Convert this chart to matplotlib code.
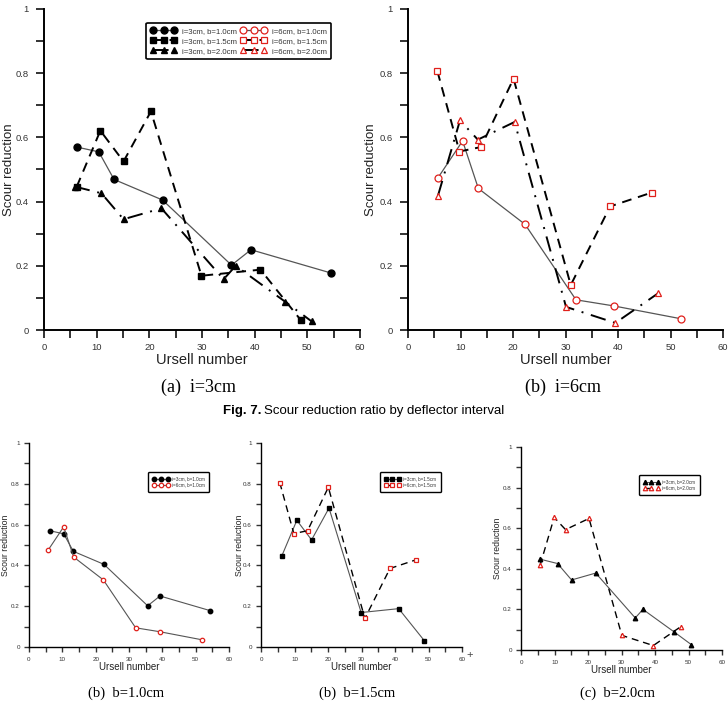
import numpy as np
import matplotlib
matplotlib.use("Agg")
import matplotlib.pyplot as plt
from matplotlib.ticker import MultipleLocator, FuncFormatter

plt.rcParams["font.family"] = ["Liberation Sans", "DejaVu Sans"]

# ── DATA (Ursell number vs scour reduction) ─────────────────────────────────
# i = 3 cm
x_i3_b10 = [6.2, 10.4, 13.3, 22.5, 35.6, 39.3, 54.4]
y_i3_b10 = [0.570, 0.555, 0.469, 0.405, 0.202, 0.250, 0.178]
x_i3_b15 = [6.2, 10.7, 15.1, 20.3, 29.9, 41.1, 48.8]
y_i3_b15 = [0.446, 0.621, 0.525, 0.681, 0.169, 0.188, 0.030]
x_i3_b20 = [5.8, 10.9, 15.1, 22.3, 34.1, 36.4, 45.8, 50.8]
y_i3_b20 = [0.447, 0.426, 0.345, 0.379, 0.158, 0.200, 0.088, 0.027]
# i = 6 cm
x_i6_b10 = [5.7, 10.4, 13.4, 22.3, 32.0, 39.2, 52.0]
y_i6_b10 = [0.474, 0.589, 0.441, 0.329, 0.094, 0.075, 0.035]
x_i6_b15 = [5.6, 9.8, 13.9, 20.1, 31.0, 38.5, 46.4]
y_i6_b15 = [0.806, 0.556, 0.570, 0.783, 0.140, 0.385, 0.428]
x_i6_b20 = [5.7, 9.9, 13.3, 20.3, 30.1, 39.5, 47.7]
y_i6_b20 = [0.418, 0.653, 0.593, 0.648, 0.072, 0.022, 0.115]

labels_i3 = ["i=3cm, b=1.0cm", "i=3cm, b=1.5cm", "i=3cm, b=2.0cm"]
labels_i6 = ["i=6cm, b=1.0cm", "i=6cm, b=1.5cm", "i=6cm, b=2.0cm"]

RED = "#e0201b"
GREY = "#555555"
TXT = "#333333"
DASH = (0, (5, 3.5))
DASHDOT = (0, (8, 4, 1, 4))

W, H = 728, 705
fig = plt.figure(figsize=(W / 100, H / 100), dpi=100)
fig.patch.set_facecolor("white")


def px_axes(x0, x1, y_top, y_bot):
    return fig.add_axes([x0 / W, 1 - y_bot / H, (x1 - x0) / W, (y_bot - y_top) / H])


def style(ax, tick_fs, lab_fs, ylab_fs, tick_len, lw, ylab_x, xpad, ypad):
    ax.set_xlim(0, 60)
    ax.set_ylim(0, 1)
    for s in ["top", "right"]:
        ax.spines[s].set_visible(False)
    for s in ["left", "bottom"]:
        ax.spines[s].set_linewidth(lw)
    ax.xaxis.set_major_locator(MultipleLocator(10))
    ax.xaxis.set_minor_locator(MultipleLocator(5))
    ax.yaxis.set_major_locator(MultipleLocator(0.2))
    ax.yaxis.set_minor_locator(MultipleLocator(0.1))
    ax.yaxis.set_major_formatter(FuncFormatter(lambda v, p: f"{v:g}"))
    ax.tick_params(which="both", direction="out", length=tick_len, width=lw,
                   labelsize=tick_fs, colors=TXT)
    ax.tick_params(axis="y", which="major", pad=ypad)
    ax.tick_params(axis="x", which="major", pad=xpad)
    ax.set_xlabel("Ursell number", fontsize=lab_fs, labelpad=0.5, color="#222222")
    lab = ax.set_ylabel("Scour reduction", fontsize=ylab_fs, color="#222222")
    lab.set_va("center")
    ax.yaxis.set_label_coords(ylab_x, 0.5)


def black_series(ax, xs, ys, marker, ls, ms, lw, lcolor="black"):
    return ax.plot(xs, ys, ls=ls, color=lcolor, lw=lw, marker=marker, ms=ms,
                   mfc="black", mec="black")[0]


def red_series(ax, xs, ys, marker, ls, ms, lw, lcolor="black"):
    return ax.plot(xs, ys, ls=ls, color=lcolor, lw=lw, marker=marker, ms=ms,
                   mfc="white", mec=RED, mew=0.9)[0]


def frame(lg, lw):
    lg.get_frame().set_edgecolor("black")
    lg.get_frame().set_linewidth(lw)
    lg.get_frame().set_alpha(1)
    for t in lg.get_texts():
        t.set_color(TXT)


# ── (a) i=3cm ───────────────────────────────────────────────────────────────
ax1 = px_axes(44, 360, 9, 330)
style(ax1, 6.8, 10.5, 9.5, 5.5, 1.4, -0.112, 4, 5.5)
h1 = black_series(ax1, x_i3_b10, y_i3_b10, "o", "-", 5, 0.9, lcolor=GREY)
h2 = black_series(ax1, x_i3_b15, y_i3_b15, "s", DASH, 4.5, 1.4)
h3 = black_series(ax1, x_i3_b20, y_i3_b20, "^", DASHDOT, 4.5, 1.4)

# ── (b) i=6cm ───────────────────────────────────────────────────────────────
ax2 = px_axes(408, 723, 9, 330)
style(ax2, 6.8, 10.5, 9.5, 5.5, 1.4, -0.117, 4, 5.5)
r1 = red_series(ax2, x_i6_b10, y_i6_b10, "o", "-", 5, 0.9, lcolor=GREY)
r2 = red_series(ax2, x_i6_b15, y_i6_b15, "s", DASH, 4.5, 1.4)
r3 = red_series(ax2, x_i6_b20, y_i6_b20, "^", DASHDOT, 4.5, 1.4)

leg = ax1.legend([h1, h2, h3, r1, r2, r3], labels_i3 + labels_i6, ncol=2,
                 loc="upper right", bbox_to_anchor=(0.921, 0.969), fontsize=5.6,
                 numpoints=3, handlelength=3.3, handletextpad=0.7,
                 columnspacing=0.5, labelspacing=0.35, borderpad=0.55,
                 frameon=True, fancybox=True)
frame(leg, 1.2)

# ── bottom row: i=3 vs i=6 for each b ───────────────────────────────────────
bottom = [
    (29, 229, 443, 647, -0.115, (0.91, 0.868),
     x_i3_b10, y_i3_b10, x_i6_b10, y_i6_b10, "o", "-", labels_i3[0], labels_i6[0]),
    (261, 462, 443, 647, -0.107, (0.905, 0.868),
     x_i3_b15, y_i3_b15, x_i6_b15, y_i6_b15, "s", DASH, labels_i3[1], labels_i6[1]),
    (521, 722, 447, 650, -0.119, (0.90, 0.872),
     x_i3_b20, y_i3_b20, x_i6_b20, y_i6_b20, "^", DASH, labels_i3[2], labels_i6[2]),
]
for (x0, x1, yt, yb, ylx, anchor, xa, ya, xb, yb_, mk, rls, la, lb) in bottom:
    ax = px_axes(x0, x1, yt, yb)
    style(ax, 4.5, 7, 6.3, 3.5, 1.0, ylx, 3.5, 3.0)
    ha = black_series(ax, xa, ya, mk, "-", 3.2, 0.8, lcolor=GREY)
    hb = red_series(ax, xb, yb_, mk, rls, 3.2, 0.8 if rls == "-" else 1.0,
                    lcolor=GREY if rls == "-" else "black")
    lg = ax.legend([ha, hb], [la, lb], loc="upper right", bbox_to_anchor=anchor,
                   fontsize=3.3, numpoints=3, handlelength=3.6, handletextpad=0.6,
                   labelspacing=0.3, borderpad=0.9, frameon=True, fancybox=True)
    frame(lg, 1.0)

fig.text(470 / W, 1 - 655 / H, "+", fontsize=8, ha="center", va="center",
         color="#444444")

# ── captions ────────────────────────────────────────────────────────────────
serif = ["Liberation Serif", "DejaVu Serif"]
fig.text(199 / W, 1 - 387 / H, "(a)  i=3cm", family=serif, fontsize=13,
         ha="center", va="center")
fig.text(563 / W, 1 - 387 / H, "(b)  i=6cm", family=serif, fontsize=13,
         ha="center", va="center")
fig.text(223 / W, 1 - 411 / H, "Fig. 7.", fontsize=9.5, fontweight="bold",
         ha="left", va="center")
fig.text(264 / W, 1 - 411 / H, "Scour reduction ratio by deflector interval",
         fontsize=9.5, ha="left", va="center")
fig.text(126 / W, 1 - 693 / H, "(b)  b=1.0cm", family=serif, fontsize=10.5,
         ha="center", va="center")
fig.text(357 / W, 1 - 693 / H, "(b)  b=1.5cm", family=serif, fontsize=10.5,
         ha="center", va="center")
fig.text(617 / W, 1 - 693 / H, "(c)  b=2.0cm", family=serif, fontsize=10.5,
         ha="center", va="center")

fig.savefig("out.png", dpi=100, facecolor="white")
